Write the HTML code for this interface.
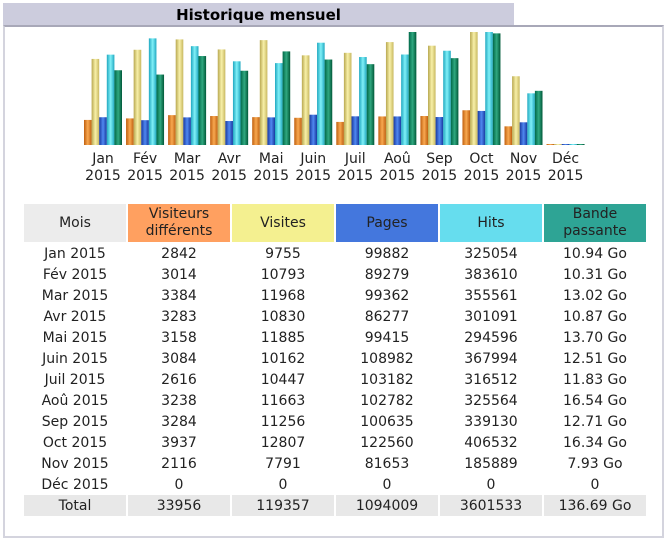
<!DOCTYPE html>
<html><head><meta charset="utf-8">
<style>
body{margin:0;width:667px;height:540px;background:#fff;font-family:"DejaVu Sans","Liberation Sans",sans-serif;position:relative;overflow:hidden}
#title{position:absolute;left:3px;top:3px;width:511px;height:23px;background:#ccccdd;font-weight:bold;font-size:15px;line-height:24px;text-align:center;color:#000}
#frame{position:absolute;left:3px;top:25px;width:657px;height:509px;border:2px solid #d4d4de;border-top:2px solid #a8a8b8}
#chart{position:absolute;left:0;top:0}
table{position:absolute;left:22px;top:204px;border-collapse:separate;border-spacing:2px 0;font-size:14px;color:#222}
td,th{text-align:center;padding:0;height:21px;font-weight:normal;width:102px}
th{height:38px;line-height:17px}
tbody tr:first-child td{padding-top:1px}
tr.total td{background:#e8e8e8}
</style></head><body>
<div id="title">Historique mensuel</div>
<div id="frame"></div>
<svg id="chart" width="667" height="200">
<defs>
<linearGradient id="gV" x1="0" x2="1"><stop offset="0" stop-color="#c06010"/><stop offset="0.5" stop-color="#f8a850"/><stop offset="1" stop-color="#c06010"/></linearGradient>
<linearGradient id="gS" x1="0" x2="1"><stop offset="0" stop-color="#b8a850"/><stop offset="0.5" stop-color="#f8f0a8"/><stop offset="1" stop-color="#c8b860"/></linearGradient>
<linearGradient id="gP" x1="0" x2="1"><stop offset="0" stop-color="#1838a0"/><stop offset="0.5" stop-color="#5088f0"/><stop offset="1" stop-color="#1838a0"/></linearGradient>
<linearGradient id="gH" x1="0" x2="1"><stop offset="0" stop-color="#20a8c0"/><stop offset="0.5" stop-color="#80f0f8"/><stop offset="1" stop-color="#20a8c0"/></linearGradient>
<linearGradient id="gB" x1="0" x2="1"><stop offset="0" stop-color="#006848"/><stop offset="0.5" stop-color="#30a880"/><stop offset="1" stop-color="#005838"/></linearGradient>
</defs>
<g id="bars"></g>
</svg>
<table>
<thead>
<tr>
<th style="background:#ececec">Mois</th>
<th style="background:#ffa060">Visiteurs<br>différents</th>
<th style="background:#f4f090">Visites</th>
<th style="background:#4477dd">Pages</th>
<th style="background:#66ddee">Hits</th>
<th style="background:#2ea495">Bande<br>passante</th>
</tr>
</thead>
<tbody id="tbody"></tbody>
</table>
<script>
const months=["Jan","Fév","Mar","Avr","Mai","Juin","Juil","Aoû","Sep","Oct","Nov","Déc"];
const visitors=[2842,3014,3384,3283,3158,3084,2616,3238,3284,3937,2116,0];
const visits=[9755,10793,11968,10830,11885,10162,10447,11663,11256,12807,7791,0];
const pages=[99882,89279,99362,86277,99415,108982,103182,102782,100635,122560,81653,0];
const hits=[325054,383610,355561,301091,294596,367994,316512,325564,339130,406532,185889,0];
const bandwidth=[10.94,10.31,13.02,10.87,13.70,12.51,11.83,16.54,12.71,16.34,7.93,0];
const year="2015";
const totals=["33956","119357","1094009","3601533","136.69 Go"];

const NS="http://www.w3.org/2000/svg";
const g=document.getElementById('bars');
const base=145,H=113,x0=84,step=42.05,bw=7.6;
const maxV=Math.max(...visits),maxH=Math.max(...hits),maxB=Math.max(...bandwidth);
const series=[[visitors,maxV,'gV','visitors'],[visits,maxV,'gS','visits'],[pages,maxH,'gP','pages'],[hits,maxH,'gH','hits'],[bandwidth,maxB,'gB','bandwidth']];
months.forEach((m,i)=>{
  series.forEach((s,j)=>{
    const h=Math.max(1,s[0][i]/s[1]*H);
    const r=document.createElementNS(NS,'rect');
    r.setAttribute('x',x0+i*step+j*bw);r.setAttribute('y',base-h);
    r.setAttribute('width',bw);r.setAttribute('height',h);
    r.setAttribute('fill','url(#'+s[2]+')');
    
    
    g.appendChild(r);
  });
  const cx=x0+i*step+2.5*bw;
  [[m,163],[year,180]].forEach(([t,y])=>{
    const tx=document.createElementNS(NS,'text');
    tx.setAttribute('x',cx);tx.setAttribute('y',y);tx.setAttribute('text-anchor','middle');
    tx.setAttribute('font-size','14');tx.setAttribute('fill','#222');
    tx.setAttribute('font-family','DejaVu Sans, Liberation Sans, sans-serif');
    tx.textContent=t;
    
    
    g.appendChild(tx);
  });
});
const tb=document.getElementById('tbody');
months.forEach((m,i)=>{
  const tr=document.createElement('tr');
  
  
  const cells=[m+' '+year,visitors[i],visits[i],pages[i],hits[i],bandwidth[i]?bandwidth[i].toFixed(2)+' Go':'0'];
  cells.forEach(c=>{const td=document.createElement('td');td.textContent=c;tr.appendChild(td);});
  tb.appendChild(tr);
});
const tr=document.createElement('tr');tr.className='total';


["Total",...totals].forEach(c=>{const td=document.createElement('td');td.textContent=c;tr.appendChild(td);});
tb.appendChild(tr);
</script>
</body></html>
